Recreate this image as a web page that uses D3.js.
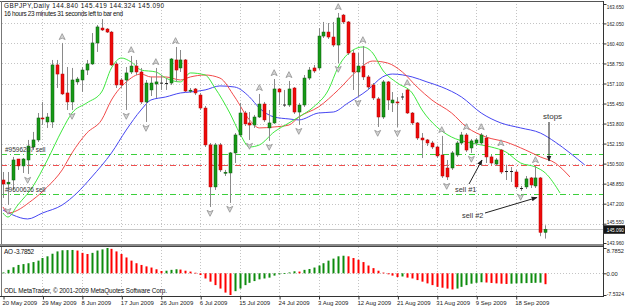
<!DOCTYPE html>
<html><head><meta charset="utf-8">
<script src="https://cdn.jsdelivr.net/npm/d3@7"></script>
<style>
body{margin:0;background:#fff}
svg{display:block}
text{font-family:"Liberation Sans",Arial,sans-serif}
</style>
</head><body>
<svg id="c" width="625" height="307"></svg>
<script>
// ---------- DATA ----------
const dateLabels = ["20 May 2009","29 May 2009","8 Jun 2009","17 Jun 2009","26 Jun 2009","6 Jul 2009","15 Jul 2009","24 Jul 2009","3 Aug 2009","12 Aug 2009","21 Aug 2009","31 Aug 2009","9 Sep 2009","18 Sep 2009"];
const dateTickBars = [0,8,16,24,32,40,48,56,64,72,80,88,96,104];
const priceTickLabels = ["163.650","162.050","160.400","158.750","157.100","155.450","153.800","152.150","150.500","148.850","147.200","145.550","143.960"];
const aoTickLabels = ["8.7852","0.00","-7.5324"];

const opens  = [149.15,148.82,149.15,150.88,150.31,150.80,151.87,152.45,154.26,153.93,153.93,158.63,157.88,156.32,155.58,157.23,157.39,158.21,158.71,160.44,161.67,161.59,161.34,158.71,157.39,157.39,158.05,158.54,158.05,155.58,156.57,157.06,157.14,157.14,157.14,159.04,158.38,159.04,156.48,156.65,156.15,155.08,152.04,148.58,152.04,149.73,149.73,151.38,152.86,154.67,153.85,153.68,154.34,155.41,153.44,153.85,156.65,155.33,155.33,156.73,154.75,155.33,157.55,158.38,158.38,161.01,161.34,160.93,160.27,162.74,162.17,159.61,158.05,158.54,157.64,156.98,155.83,154.34,157.23,155.50,155.58,155.99,156.57,154.67,153.85,152.61,152.45,152.20,151.87,151.21,150.14,150.14,151.21,152.20,152.86,151.79,152.20,152.20,152.61,151.05,150.47,151.62,149.89,149.89,149.81,148.49,148.58,149.32,148.66,149.32,144.84];
const highs  = [149.81,149.81,151.05,150.88,150.96,152.45,153.11,154.67,155.58,154.67,159.04,159.04,160.44,158.46,158.38,157.64,158.46,159.04,161.26,161.92,162.41,161.67,161.43,158.87,157.55,158.46,159.37,159.04,158.38,157.39,157.64,158.38,157.80,157.55,159.20,160.11,159.86,159.12,156.73,156.73,156.32,155.25,152.20,152.20,152.20,149.98,151.46,153.02,155.50,154.84,154.75,154.51,156.24,155.58,154.92,157.47,156.73,156.57,157.31,156.81,155.50,157.80,158.46,158.63,161.67,162.17,162.08,162.17,162.91,162.83,162.25,159.86,159.61,160.19,157.80,157.14,155.99,157.39,157.31,156.40,155.99,156.32,156.65,154.75,153.93,153.02,152.53,152.37,151.95,152.78,150.80,151.54,152.37,153.11,153.02,152.53,152.61,153.02,152.86,151.21,150.96,151.70,150.39,150.22,149.98,148.66,149.48,149.40,150.30,149.40,145.419];
const lows   = [147.67,147.09,148.33,149.98,149.73,149.65,151.62,152.28,153.68,153.44,153.44,156.73,156.15,154.92,154.92,156.98,156.40,157.80,158.63,159.70,161.43,161.26,158.54,156.73,156.73,154.92,157.88,157.80,155.41,153.93,156.07,155.91,156.57,156.57,156.98,157.23,158.05,156.40,156.32,156.15,154.92,151.87,146.93,148.33,149.81,149.48,147.26,150.55,152.69,153.60,152.45,153.44,154.26,153.93,152.37,153.77,155.33,155.17,155.17,154.59,153.68,155.17,157.39,157.97,158.21,160.85,160.77,160.11,158.79,162.00,159.45,156.57,156.00,157.39,156.57,155.74,153.52,154.18,154.92,154.75,153.52,155.74,154.59,153.68,152.45,150.96,151.95,151.70,150.96,149.32,149.15,149.98,151.05,152.04,151.46,151.38,151.95,152.04,150.55,150.39,150.31,149.65,149.15,148.99,148.41,148.25,148.41,148.49,148.49,144.52,144.324];
const closes = [148.82,148.97,150.80,150.31,150.88,151.95,152.45,154.26,154.20,154.34,158.63,157.88,156.24,155.58,157.39,157.47,158.21,158.71,160.44,161.76,161.51,161.34,158.63,156.98,156.98,157.97,158.54,158.05,155.58,157.14,157.14,157.23,157.17,157.10,159.12,158.21,159.04,156.48,156.55,156.32,155.08,152.04,148.58,152.04,149.98,149.79,151.38,152.86,154.67,153.77,153.68,154.34,155.41,154.10,153.85,156.65,156.40,155.37,156.65,154.75,155.33,157.55,158.21,158.13,161.01,161.34,160.93,160.27,162.50,162.17,159.61,158.05,158.54,157.64,156.81,155.91,154.34,157.23,155.74,155.74,155.50,156.03,154.67,153.85,152.61,152.45,152.20,151.87,151.13,149.48,149.40,151.38,152.20,152.86,151.62,152.37,152.45,152.86,151.05,150.55,150.80,149.81,149.85,149.85,148.58,148.45,149.24,148.74,149.32,144.84,145.09];

const aoValues = [0.3,1.2,2.1,2.9,3.2,3.5,3.9,4.4,5.3,5.9,6.8,7.6,8.0,8.05,8.1,7.9,7.1,6.7,7.1,7.9,8.3,8.7852,8.5,7.6,6.7,5.5,4.4,3.5,2.9,2.4,2.0,1.4,0.8,0.9,1.2,1.4,1.3,0.9,0.6,0.2,-0.6,-1.8,-2.9,-4.1,-5.3,-6.7,-7.5324,-6.2,-5.3,-4.1,-3.3,-2.7,-2.1,-1.8,-1.5,-0.8,-0.35,0.05,0.3,0.7,0.6,1.2,1.5,2.0,2.7,3.5,4.4,5.1,5.9,6.1,5.9,5.3,4.7,3.9,2.7,1.8,0.9,0.25,-0.35,-0.8,-1.3,-1.1,-1.5,-1.8,-2.35,-2.9,-3.5,-4.1,-4.7,-5.0,-5.3,-5.6,-5.3,-4.7,-4.1,-3.6,-3.3,-3.1,-3.2,-3.35,-3.5,-3.6,-3.7,-3.6,-3.5,-3.45,-3.4,-3.35,-3.3,-3.25,-3.7852];

const upFractalBars   = [12,26,31,35,52,55,58,68,73,82,89,94,97,101,108];
const downFractalBars = [1,5,14,25,29,42,46,50,54,60,68,72,76,80,90,95,105];

const jawBars   = [0,2,5,8,12,15,18,22,25,28,30,33,36,38,41,44,47,50,52,55,58,60,64,67,70,74,77,79,83,86,89,93,97,101,105,109,112,115,118];
const jawPrices = [146.68,146.27,145.94,146.43,147.09,148.08,149.40,151.38,153.27,154.92,155.74,155.99,156.32,156.40,156.57,156.90,156.81,155.99,155.08,154.34,154.18,154.10,154.67,154.75,155.50,156.57,157.64,157.88,157.64,157.23,156.81,155.99,154.67,153.85,153.44,153.02,152.28,151.38,150.39];
const teethBars   = [0,1,6,9,12,14,17,20,22,25,28,30,33,36,38,41,44,47,50,52,55,58,60,64,68,72,75,78,81,84,87,91,94,98,102,106,109,112,115];
const teethPrices = [146.93,146.43,147.51,148.58,149.98,151.38,153.02,154.10,155.74,157.23,157.88,157.64,157.64,157.39,157.64,157.80,157.55,155.99,154.10,153.44,153.52,153.68,154.34,155.17,156.57,158.21,158.95,158.79,158.05,156.81,155.74,154.67,153.52,152.69,152.28,151.62,151.05,150.55,149.40];
const lipsBars   = [0,1,3,6,9,12,14,17,20,22,24,26,28,31,33,36,38,41,43,46,48,50,52,55,58,60,63,66,68,71,73,75,77,80,83,85,88,91,94,97,99,102,105,108,110,113];
const lipsPrices = [146.43,146.10,147.09,148.58,150.80,153.27,154.67,155.50,156.40,158.38,159.20,158.87,158.21,158.05,157.55,157.23,157.97,157.80,156.73,154.67,153.02,151.87,152.04,153.11,153.85,154.34,155.17,156.57,158.46,159.86,160.11,159.61,158.21,157.14,156.32,154.92,153.52,152.69,152.28,152.04,151.87,151.46,150.55,150.22,149.73,148.08];

const orderLevels = [151.27, 147.97];
const orderLabels = ["#9596207 sell", "#9600626 sell"];
const stopLevel = 150.36;
const bidPrice = 145.09;
const bidLabel = "145.090";
const titleLine1 = "GBPJPY,Daily  144.840 145.419 144.324 145.090";
const titleLine2 = "16 hours 23 minutes 31 seconds left to bar end";
const aoTitle = "AO -3.7852";
const copyright = "ODL MetaTrader, \u00A9 2001-2009 MetaQuotes Software Corp.";

// ---------- LAYOUT ----------
const svg = d3.select("#c");
const AX = 603;
const MT = 1, MB = 244;
const AT = 247, AB = 296;
const x = d3.scaleLinear().domain([0,120]).range([3, 3+120*4.93]);
const y = d3.scaleLinear().domain([143.96,163.65]).range([243,4]);
const yAO = d3.scaleLinear().domain([-7.5324,8.7852]).range([295,248]);
const priceTickValues = priceTickLabels.map(Number);
const aoTickValues = aoTickLabels.map(Number);
const LABEL_END = 624 - (AX + 0.5);
const MAXW = 17.2;

function fitRight(sel){
  sel.attr("text-anchor","end").attr("x",LABEL_END).each(function(){
    const w = this.getComputedTextLength();
    if (w > MAXW) d3.select(this).attr("textLength",MAXW).attr("lengthAdjust","spacingAndGlyphs");
  });
}

svg.append("rect").attr("width",625).attr("height",307).attr("fill","#fff");

const defs = svg.append("defs");
defs.append("clipPath").attr("id","mainClip").append("rect").attr("x",1).attr("y",MT).attr("width",AX-1).attr("height",MB-MT);
defs.append("clipPath").attr("id","aoClip").append("rect").attr("x",1).attr("y",AT).attr("width",AX-1).attr("height",AB-AT);
defs.append("marker").attr("id","ah").attr("viewBox","0 0 10 10").attr("refX",9).attr("refY",5)
  .attr("markerWidth",6).attr("markerHeight",6).attr("orient","auto-start-reverse")
  .append("path").attr("d","M0,1 L10,5 L0,9 Z").attr("fill","#222");

// grid
const grid = svg.append("g").attr("stroke","#c4c4c4").attr("stroke-width",1).attr("stroke-dasharray","1,2");
grid.selectAll(".hg").data(priceTickValues.slice(1,-1)).join("line")
  .attr("x1",2).attr("x2",AX).attr("y1",d=>Math.round(y(d))+0.5).attr("y2",d=>Math.round(y(d))+0.5);
grid.selectAll(".vg").data(dateTickBars.slice(1)).join("line")
  .attr("x1",d=>Math.round(x(d))+0.5).attr("x2",d=>Math.round(x(d))+0.5).attr("y1",MT).attr("y2",MB);
grid.selectAll(".vg2").data(dateTickBars.slice(1)).join("line")
  .attr("x1",d=>Math.round(x(d))+0.5).attr("x2",d=>Math.round(x(d))+0.5).attr("y1",AT).attr("y2",AB);
grid.append("line").attr("x1",2).attr("x2",AX).attr("y1",Math.round(yAO(0))+0.5).attr("y2",Math.round(yAO(0))+0.5);

// main panel content
const main = svg.append("g").attr("clip-path","url(#mainClip)");

main.append("line").attr("x1",1).attr("x2",AX).attr("y1",Math.round(y(bidPrice))+0.5).attr("y2",Math.round(y(bidPrice))+0.5)
  .attr("stroke","#c8c8c8").attr("stroke-width",1);

main.selectAll(".ol").data(orderLevels).join("line")
  .attr("x1",1).attr("x2",AX).attr("y1",d=>Math.round(y(d))+0.5).attr("y2",d=>Math.round(y(d))+0.5)
  .attr("stroke","#3ccf3c").attr("stroke-width",1).attr("stroke-dasharray","6,3,1,3");
main.append("line").attr("x1",1).attr("x2",AX).attr("y1",Math.round(y(stopLevel))+0.5).attr("y2",Math.round(y(stopLevel))+0.5)
  .attr("stroke","#f05050").attr("stroke-width",1).attr("stroke-dasharray","6,3,1,3");

const lineGen = d3.line().x(d=>x(d[0])).y(d=>y(d[1])).curve(d3.curveMonotoneX);
[[jawBars,jawPrices,"#4646f2"],[teethBars,teethPrices,"#f24a4a"],[lipsBars,lipsPrices,"#3ee83e"]].forEach(([b,p,c])=>{
  main.append("path").attr("d",lineGen(b.map((v,i)=>[v,p[i]]))).attr("fill","none").attr("stroke",c).attr("stroke-width",1);
});

const candles = opens.map((o,i)=>({i,o,h:highs[i],l:lows[i],c:closes[i]}));
const cg = main.append("g");
cg.selectAll(".wick").data(candles).join("line")
  .attr("x1",d=>Math.round(x(d.i))+0.5).attr("x2",d=>Math.round(x(d.i))+0.5)
  .attr("y1",d=>y(d.h)).attr("y2",d=>y(d.l)).attr("stroke","#8a8a8a").attr("stroke-width",1);
cg.selectAll(".body").data(candles).join("rect")
  .attr("x",d=>Math.round(x(d.i))-1).attr("width",3)
  .attr("y",d=>y(Math.max(d.o,d.c)))
  .attr("height",d=>Math.max(1, Math.abs(y(d.o)-y(d.c))))
  .attr("fill",d=>Math.abs(d.c-d.o)<0.06?"#222":(d.c>d.o?"#169a16":"#ee0a0a"))
  .attr("stroke",d=>Math.abs(d.c-d.o)<0.06?"none":(d.c>d.o?"#0c5a0c":"#b80000")).attr("stroke-width",0.5);

const fg = main.append("g").attr("fill","#d6d6d6").attr("stroke","#909090").attr("stroke-width",0.8);
fg.selectAll(".fu").data(upFractalBars).join("path")
  .attr("transform",d=>`translate(${x(d)},${y(highs[d])-6})`)
  .attr("d","M0,-3.3 L3,2.6 L0,1.1 L-3,2.6 Z");
fg.selectAll(".fd").data(downFractalBars).join("path")
  .attr("transform",d=>`translate(${x(d)},${y(lows[d])+6})`)
  .attr("d","M0,3.3 L3,-2.6 L0,-1.1 L-3,-2.6 Z");

main.selectAll(".olt").data(orderLevels).join("text")
  .attr("x",5).attr("y",d=>y(d)-2).attr("font-size",6.5).attr("fill","#333")
  .text((d,i)=>orderLabels[i]);

// AO bars
const ag = svg.append("g").attr("clip-path","url(#aoClip)");
ag.selectAll(".ao").data(aoValues).join("rect")
  .attr("x",(d,i)=>Math.round(x(i))-0.5).attr("width",2)
  .attr("y",d=>Math.min(yAO(d),yAO(0))).attr("height",d=>Math.max(0.8,Math.abs(yAO(d)-yAO(0))))
  .attr("fill",(d,i)=> (i===0 || d>=aoValues[i-1]) ? "#0e8c0e" : "#ff0000");

// frames
const frame = svg.append("g").attr("fill","none");
frame.append("line").attr("x1",0).attr("x2",AX+1).attr("y1",1.5).attr("y2",1.5).attr("stroke","#555");
frame.append("line").attr("x1",1.5).attr("x2",1.5).attr("y1",1).attr("y2",AB).attr("stroke","#777");
frame.append("rect").attr("x",0).attr("y",MB).attr("width",AX+1).attr("height",2.5).attr("fill","#8a8a8a").attr("stroke","none");
frame.append("line").attr("x1",0).attr("x2",AX+1).attr("y1",AT-0.5).attr("y2",AT-0.5).attr("stroke","#444");
frame.append("line").attr("x1",0).attr("x2",AX+1).attr("y1",AB+0.5).attr("y2",AB+0.5).attr("stroke","#333");
frame.append("line").attr("x1",AX+0.5).attr("x2",AX+0.5).attr("y1",1).attr("y2",AB+1).attr("stroke","#333");

// price axis
const pAxis = svg.append("g").attr("transform",`translate(${AX+0.5},0)`)
  .call(d3.axisRight(y).tickValues(priceTickValues).tickFormat((d,i)=>priceTickLabels[i]).tickSize(3).tickPadding(0));
pAxis.select(".domain").remove();
pAxis.selectAll("line").attr("stroke","#333");
pAxis.selectAll("text").attr("font-size",5.8).attr("fill","#222").attr("font-family","Liberation Sans, Arial, sans-serif").call(fitRight);
pAxis.selectAll(".tick").filter((d,i)=>i===0).select("text").attr("dy","0.75em");
pAxis.selectAll(".tick").filter((d,i)=>i===priceTickValues.length-2).select("text").attr("dy","0.05em");
pAxis.selectAll(".tick").filter((d,i)=>i===priceTickValues.length-1).select("text").attr("dy","0.2em");

// bid label
const bidG = svg.append("g").attr("transform",`translate(${AX+0.5},0)`);
bidG.append("rect").attr("x",0.5).attr("y",y(bidPrice)-4).attr("width",22).attr("height",8.5).attr("fill","#151515");
bidG.append("text").attr("y",y(bidPrice)+2.4).attr("font-size",5.8).attr("fill","#fff").text(bidLabel).call(fitRight);

// AO axis
const aAxis = svg.append("g").attr("transform",`translate(${AX+0.5},0)`)
  .call(d3.axisRight(yAO).tickValues(aoTickValues).tickFormat((d,i)=>aoTickLabels[i]).tickSize(3).tickPadding(0));
aAxis.select(".domain").remove();
aAxis.selectAll("line").attr("stroke","#333");
aAxis.selectAll("text").attr("font-size",5.8).attr("fill","#222").attr("font-family","Liberation Sans, Arial, sans-serif").call(fitRight);
aAxis.selectAll(".tick").filter((d,i)=>i===1).select("text").attr("text-anchor","start").attr("x",3).attr("textLength",null);
aAxis.selectAll(".tick").filter((d,i)=>i===0).select("text").attr("dy","0.75em");
aAxis.selectAll(".tick").filter((d,i)=>i===2).select("text").attr("dy","0.05em");

// date axis
const dAxis = svg.append("g").attr("transform",`translate(0,${AB+0.5})`)
  .call(d3.axisBottom(x).tickValues(dateTickBars).tickFormat((d,i)=>dateLabels[i]).tickSize(3).tickPadding(1));
dAxis.select(".domain").remove();
dAxis.selectAll("line").attr("stroke","#333").attr("transform","translate(0.5,0)");
dAxis.selectAll("text").attr("font-size",6).attr("fill","#222").attr("text-anchor","start").attr("dx","-1")
  .attr("font-family","Liberation Sans, Arial, sans-serif");

// titles
svg.append("text").attr("x",4).attr("y",8.3).attr("font-size",6.4).attr("fill","#111")
  .attr("textLength",160).attr("lengthAdjust","spacing").text(titleLine1);
svg.append("text").attr("x",4).attr("y",15.6).attr("font-size",6.4).attr("fill","#111")
  .attr("textLength",119).attr("lengthAdjust","spacing").text(titleLine2);
svg.append("text").attr("x",4).attr("y",254).attr("font-size",6.4).attr("fill","#111")
  .attr("textLength",30).attr("lengthAdjust","spacing").text(aoTitle);
svg.append("text").attr("x",4).attr("y",293).attr("font-size",6.4).attr("fill","#111")
  .attr("textLength",163).attr("lengthAdjust","spacing").text(copyright);

// annotations
const ann = svg.append("g");
ann.append("text").attr("x",543).attr("y",119).attr("font-size",8).attr("fill","#333").text("stops");
ann.append("text").attr("x",455).attr("y",192).attr("font-size",7.4).attr("fill","#333").text("sell #1");
ann.append("text").attr("x",462).attr("y",217.5).attr("font-size",7.4).attr("fill","#333").text("sell #2");
const arrows = [[549,122,549,161],[469,184,482,160],[485,213,537,197.5]];
ann.selectAll(".ar").data(arrows).join("line")
  .attr("x1",d=>d[0]).attr("y1",d=>d[1]).attr("x2",d=>d[2]).attr("y2",d=>d[3])
  .attr("stroke","#222").attr("stroke-width",1).attr("marker-end","url(#ah)");
</script>
</body></html>
